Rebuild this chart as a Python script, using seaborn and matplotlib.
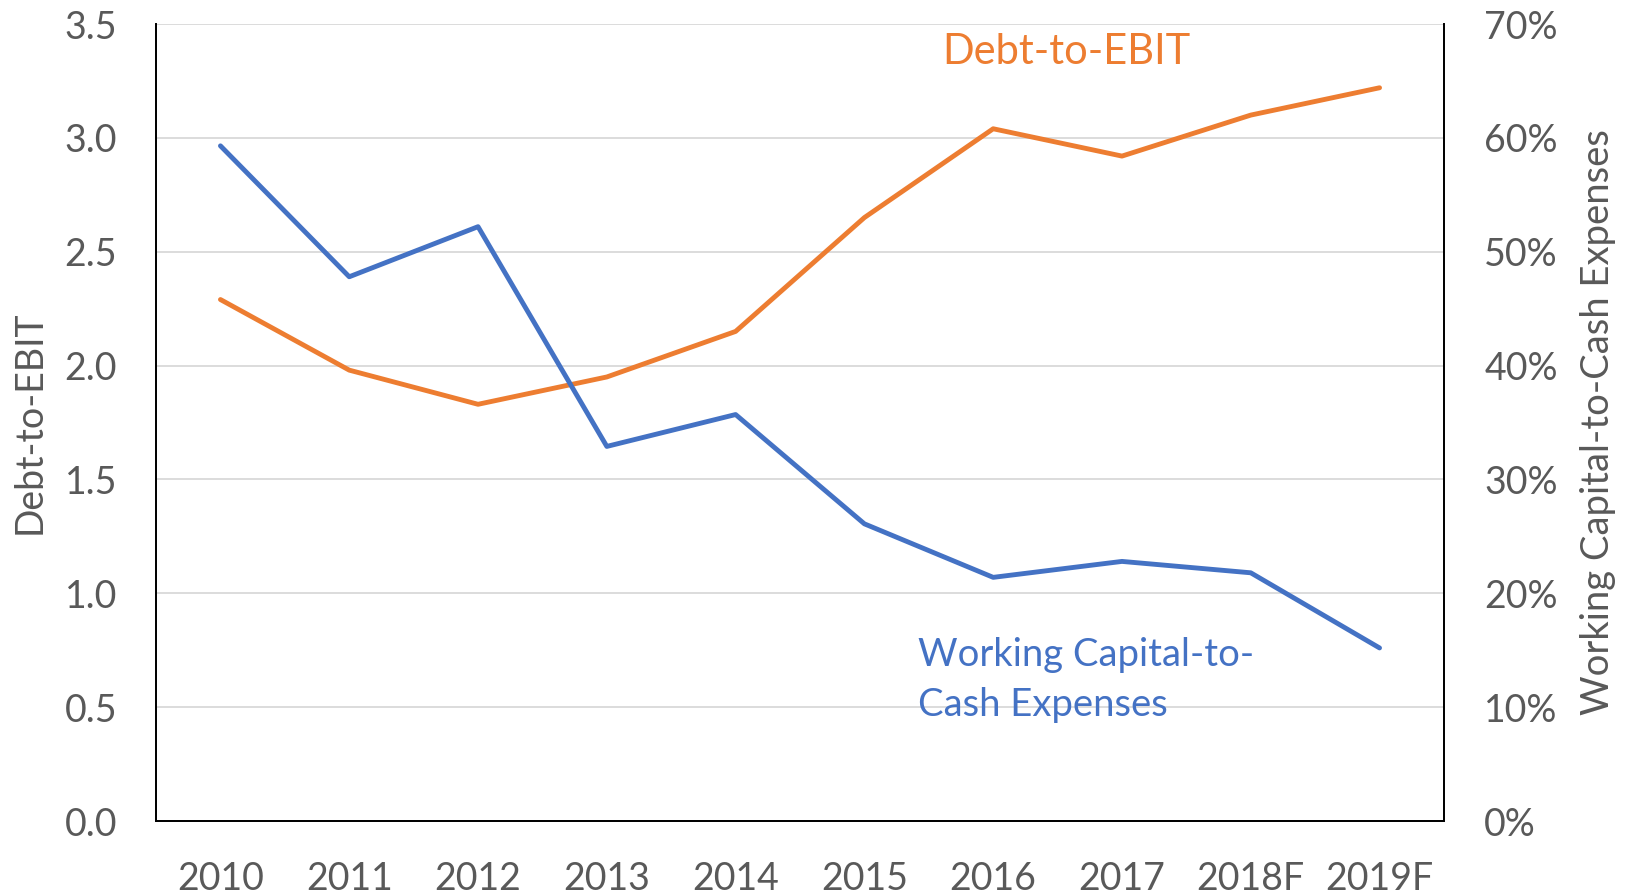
import pandas as pd
import matplotlib
matplotlib.use("Agg")
import matplotlib.pyplot as plt
import seaborn as sns
from matplotlib.ticker import PercentFormatter, MultipleLocator, FormatStrFormatter

years = ['2010', '2011', '2012', '2013', '2014', '2015', '2016', '2017', '2018F', '2019F']
debt_to_ebit = [2.29, 1.98, 1.83, 1.95, 2.15, 2.65, 3.04, 2.92, 3.10, 3.22]
wc_to_cash = [59.3, 47.8, 52.2, 32.9, 35.7, 26.1, 21.4, 22.8, 21.8, 15.2]

orange = '#ED7D31'
blue = '#4472C4'
grey = '#595959'

df = pd.DataFrame({'year': years, 'debt': debt_to_ebit, 'wc': wc_to_cash})

sns.set_style("white")
plt.rcParams['font.family'] = ['Lato', 'DejaVu Sans']

fig = plt.figure(figsize=(16.29, 8.96), dpi=100)
ax = fig.add_axes([0.0958, 0.0837, 0.7906, 0.8895])
ax2 = ax.twinx()

sns.lineplot(data=df, x='year', y='debt', ax=ax, color=orange, lw=3.5, sort=False)
sns.lineplot(data=df, x='year', y='wc', ax=ax2, color=blue, lw=3.5, sort=False)

ax.set_xlim(-0.5, len(years) - 0.5)
ax.set_ylim(0, 3.5)
ax2.set_ylim(0, 70)
ax.yaxis.set_major_locator(MultipleLocator(0.5))
ax2.yaxis.set_major_locator(MultipleLocator(10))
ax.yaxis.set_major_formatter(FormatStrFormatter('%.1f'))
ax2.yaxis.set_major_formatter(PercentFormatter(decimals=0))

ax.grid(axis='y', color='#d9d9d9', lw=1.3)
ax.set_axisbelow(True)

for a in (ax, ax2):
    a.spines['top'].set_visible(False)
    for s in ('left', 'right', 'bottom'):
        a.spines[s].set_color('black')
        a.spines[s].set_linewidth(1.3)
    a.tick_params(length=0, labelsize=27, colors=grey)

ax.tick_params(axis='y', pad=28)
ax.tick_params(axis='x', pad=29)
ax2.tick_params(axis='y', pad=29)

ax.set_xlabel('')
ax.set_ylabel('Debt-to-EBIT', fontsize=27, color=grey, labelpad=12)
ax2.set_ylabel('Working Capital-to-Cash Expenses', fontsize=27.5, color=grey, labelpad=16)

ax.text(6.565, 3.377, 'Debt-to-EBIT', color=orange, fontsize=30, ha='center', va='center')
ax.text(5.42, 0.62, 'Working Capital-to-\nCash Expenses', color=blue, fontsize=27.5,
        ha='left', va='center', linespacing=1.48)

fig.savefig('out.png', dpi=100)
